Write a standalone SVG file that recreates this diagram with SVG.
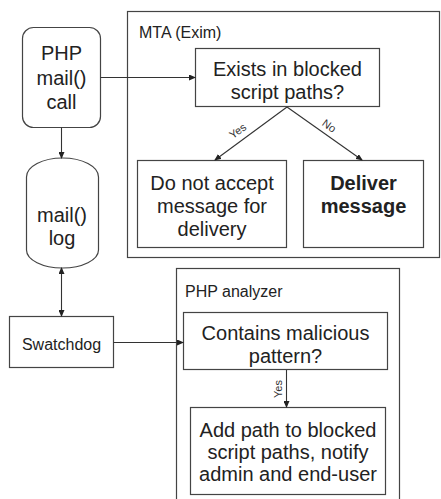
<svg xmlns="http://www.w3.org/2000/svg" width="441" height="499" viewBox="0 0 441 499">
<defs>
<marker id="ah" markerWidth="7" markerHeight="6" refX="6" refY="3" orient="auto" markerUnits="userSpaceOnUse"><path d="M0,0 L7,3 L0,6 Z" fill="#222"/></marker>
<marker id="ahs" markerWidth="7" markerHeight="6" refX="1" refY="3" orient="auto" markerUnits="userSpaceOnUse"><path d="M7,0 L0,3 L7,6 Z" fill="#222"/></marker>
</defs>
<style>
.box{fill:#fff;stroke:#444;stroke-width:1.2}
.grp{fill:none;stroke:#444;stroke-width:1.2}
.t{font-family:"Liberation Sans",Arial,sans-serif;font-size:20px;fill:#222;text-anchor:middle}
.b{font-weight:bold}
.lbl{font-family:"Liberation Sans",Arial,sans-serif;font-size:16px;fill:#222}
.sm{font-family:"Liberation Sans",Arial,sans-serif;font-size:11px;fill:#333;text-anchor:middle}
.c{fill:none;stroke:#333;stroke-width:1.1}
</style>
<rect width="441" height="499" fill="#fff"/>
<g id="mta">
<rect class="grp" x="127.5" y="11.5" width="312" height="246"/>
<text class="lbl" x="139" y="38">MTA (Exim)</text>
</g>
<g id="analyzer">
<rect class="grp" x="176.5" y="268.5" width="223" height="240"/>
<text class="lbl" x="185" y="297">PHP analyzer</text>
</g>
<g id="php-call">
<rect class="box" x="22.5" y="27.5" width="78" height="100" rx="11"/>
<text class="t" x="61.5" y="60">PHP</text>
<text class="t" x="61.5" y="85">mail()</text>
<text class="t" x="61.5" y="109">call</text>
</g>
<g id="mail-log">
<path class="box" d="M26.5,177 A36,19 0 0 1 98.5,177 L98.5,250 A36,18 0 0 1 26.5,250 Z"/>
<text class="t" x="62" y="222">mail()</text>
<text class="t" x="62" y="245">log</text>
</g>
<g id="swatchdog">
<rect class="box" x="9.5" y="316.5" width="104" height="51"/>
<text class="lbl" x="61.5" y="350" text-anchor="middle">Swatchdog</text>
</g>
<g id="exists">
<rect class="box" x="195.5" y="48.5" width="184" height="58"/>
<text class="t" x="287.5" y="76">Exists in blocked</text>
<text class="t" x="287.5" y="99">script paths?</text>
</g>
<g id="reject">
<rect class="box" x="137.5" y="160.5" width="149" height="87"/>
<text class="t" x="212" y="190">Do not accept</text>
<text class="t" x="212" y="213">message for</text>
<text class="t" x="212" y="236">delivery</text>
</g>
<g id="deliver">
<rect class="box" x="303.5" y="160.5" width="120" height="87"/>
<text class="t b" x="363.5" y="190">Deliver</text>
<text class="t b" x="363.5" y="213">message</text>
</g>
<g id="contains">
<rect class="box" x="183.5" y="312.5" width="204" height="57"/>
<text class="t" x="285.5" y="340">Contains malicious</text>
<text class="t" x="285.5" y="363">pattern?</text>
</g>
<g id="addpath">
<rect class="box" x="190.5" y="407.5" width="195" height="87"/>
<text class="t" x="288" y="437">Add path to blocked</text>
<text class="t" x="288" y="459">script paths, notify</text>
<text class="t" x="288" y="481">admin and end-user</text>
</g>
<g id="connectors">
<line class="c" x1="100.5" y1="77.5" x2="195" y2="77.5" marker-end="url(#ah)"/>
<line class="c" x1="61.5" y1="127.5" x2="61.5" y2="158" marker-end="url(#ah)"/>
<line class="c" x1="61.5" y1="268" x2="61.5" y2="316" marker-start="url(#ahs)" marker-end="url(#ah)"/>
<line class="c" x1="113.5" y1="342.5" x2="183" y2="342.5" marker-end="url(#ah)"/>
<line class="c" x1="287" y1="107" x2="215" y2="160" marker-end="url(#ah)"/>
<line class="c" x1="287" y1="107" x2="362" y2="160" marker-end="url(#ah)"/>
<line class="c" x1="286.5" y1="370" x2="286.5" y2="407" marker-end="url(#ah)"/>
<text class="sm" transform="translate(240,134) rotate(-36)">Yes</text>
<text class="sm" transform="translate(327,129) rotate(36)">No</text>
<text class="sm" transform="translate(282,389) rotate(-90)">Yes</text>
</g>
</svg>
